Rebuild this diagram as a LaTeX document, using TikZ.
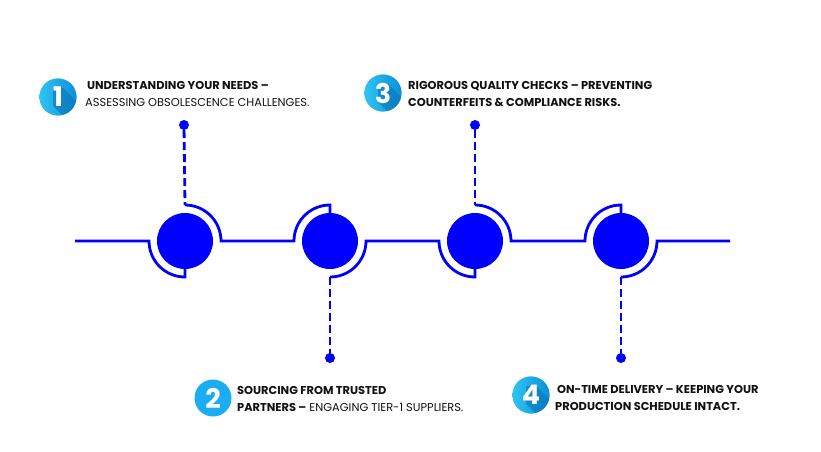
\documentclass[tikz,border=0pt]{standalone}
\usepackage{fontspec}
\setmainfont{Poppins}
\usetikzlibrary{positioning}
\definecolor{hubblue}{HTML}{0000FF}
\definecolor{badgelight}{HTML}{2EC4F3}
\definecolor{badgedark}{HTML}{0C8FD6}
\definecolor{badgeshade}{HTML}{0A6FB5}
\definecolor{badgeflat}{HTML}{1BACF2}
\definecolor{textdark}{HTML}{111111}

\begin{document}
\begin{tikzpicture}[x=1pt,y=1pt,font=\fontsize{11.4}{17.5}\selectfont]

\tikzset{
hub/.style={circle,fill=hubblue,minimum size=56pt,inner sep=0pt},
dot/.style={circle,fill=hubblue,minimum size=10pt,inner sep=0pt},
ln/.style={draw=hubblue,line width=2.8pt},
dl/.style={ln,dash pattern=on 8pt off 4pt},
badge/.style={
    circle,
    minimum size=37pt,
    inner sep=0pt,
    text=white,
    font=\fontsize{27}{27}\selectfont\bfseries,
    fill=badgeflat
},
shaded/.style={
    shading=axis,
    left color=badgelight,
    right color=badgedark,
    path picture={
        \fill[badgeshade,opacity=.55] ([shift={(-5pt,9pt)}]path picture bounding box.center)
            -- ++(10pt,0) -- ++(30pt,-30pt) -- ++(0,-18pt) -- ++(-10pt,0) -- ++(-30pt,30pt) -- cycle;
    }
},
txt/.style={anchor=west,align=left,inner sep=0pt,text=textdark}
}

\useasboundingbox (0,0) rectangle (821,451);

% hubs and end dots
\node[hub] (c1) at (185,210) {};
\node[hub] (c2) at (330,210) {};
\node[hub] (c3) at (475,210) {};
\node[hub] (c4) at (621,210) {};

\node[dot] (d1) at (184,326) {};
\node[dot] (d2) at (330,93) {};
\node[dot] (d3) at (475,326) {};
\node[dot] (d4) at (621,93) {};

\coordinate (lstart) at (75,210);
\coordinate (lend) at (730,210);

% track
\draw[ln] (lstart) -- ([xshift=-36pt]c1.center) arc[start angle=180,end angle=270,radius=36pt] -- ++(0,8pt);
\draw[dl] (d1) -- ([yshift=36pt]c1.center);
\draw[ln] ([yshift=36pt]c1.center) arc[start angle=90,end angle=0,radius=36pt]
    -- ([xshift=-36pt]c2.center) arc[start angle=180,end angle=90,radius=36pt] -- ++(0,-8pt);
\draw[dl] ([yshift=-36pt]c2.center) -- (d2);
\draw[ln] ([yshift=-36pt]c2.center) arc[start angle=270,end angle=360,radius=36pt]
    -- ([xshift=-36pt]c3.center) arc[start angle=180,end angle=270,radius=36pt] -- ++(0,8pt);
\draw[dl] (d3) -- ([yshift=36pt]c3.center);
\draw[ln] ([yshift=36pt]c3.center) arc[start angle=90,end angle=0,radius=36pt]
    -- ([xshift=-36pt]c4.center) arc[start angle=180,end angle=90,radius=36pt] -- ++(0,-8pt);
\draw[dl] ([yshift=-36pt]c4.center) -- (d4);
\draw[ln] ([yshift=-36pt]c4.center) arc[start angle=270,end angle=360,radius=36pt] -- (lend);

% number badges
\node[badge,shaded] (b1) at (58,354) {1};
\node[badge] (b2) at (213,53) {2};
\node[badge,shaded] (b3) at (383,358) {3};
\node[badge,shaded] (b4) at (531,56) {4};

% labels
\node[txt] (t1) at (85,357) {\textbf{\,UNDERSTANDING YOUR NEEDS –}\\ASSESSING OBSOLESCENCE CHALLENGES.};
\node[txt] (t2) at (237,52) {\textbf{SOURCING FROM TRUSTED}\\\textbf{PARTNERS –} ENGAGING TIER-1 SUPPLIERS.};
\node[txt] (t3) at (408,357) {\textbf{RIGOROUS QUALITY CHECKS – PREVENTING}\\\textbf{COUNTERFEITS \& COMPLIANCE RISKS.}};
\node[txt] (t4) at (555,53) {\textbf{\,ON-TIME DELIVERY – KEEPING YOUR}\\\textbf{PRODUCTION SCHEDULE INTACT.}};

\end{tikzpicture}
\end{document}
